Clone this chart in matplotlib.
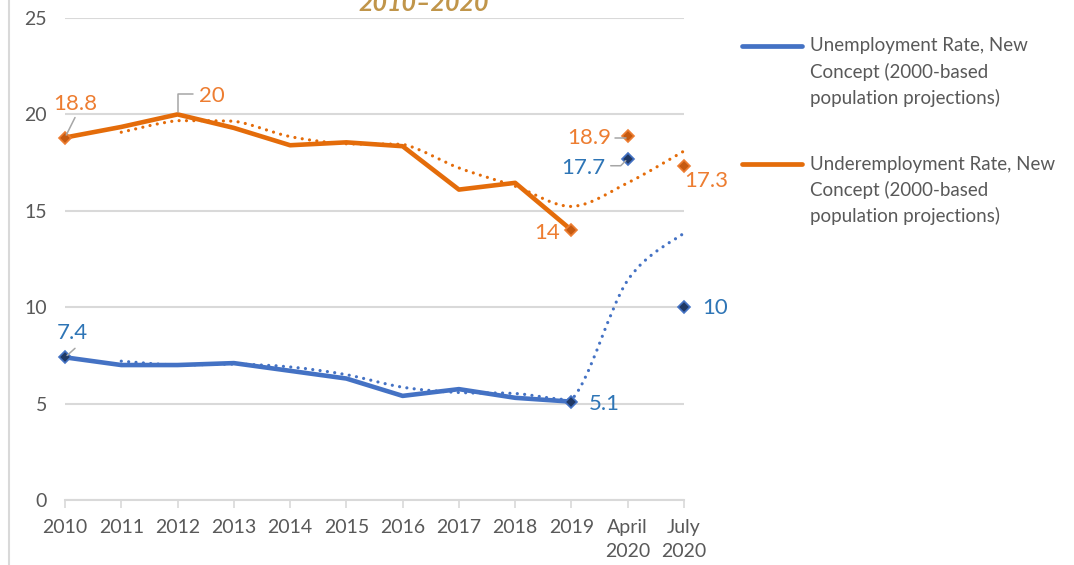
import matplotlib
matplotlib.use("Agg")
import matplotlib.pyplot as plt
from matplotlib.path import Path
from matplotlib.patches import PathPatch
from matplotlib.lines import Line2D
import pandas as pd

plt.rcParams['font.family'] = ['Lato', 'DejaVu Sans']

categories = ["2010", "2011", "2012", "2013", "2014", "2015", "2016", "2017",
              "2018", "2019", "April\n2020", "July\n2020"]
unemployment = [7.4, 7.0, 7.0, 7.1, 6.7, 6.3, 5.4, 5.75, 5.3, 5.1, 17.7, 10.0]
underemployment = [18.8, 19.35, 20.0, 19.3, 18.4, 18.55, 18.35, 16.1, 16.45, 14.0, 18.9, 17.3]
annual_count = 10
yticks = [0, 5, 10, 15, 20, 25]
legend_labels = ["Unemployment Rate, New\nConcept (2000-based\npopulation projections)",
                 "Underemployment Rate, New\nConcept (2000-based\npopulation projections)"]
title = "2010\u20132020"

W, H = 1074, 565
fig = plt.figure(figsize=(W / 100, H / 100), dpi=100)
ax = fig.add_axes([65 / W, 1 - 500 / H, (684 - 65) / W, (500 - 18) / H])

BLUE = "#4472C4"
ORANGE = "#E46C0A"
BLUE_TXT = "#2E75B6"
ORANGE_TXT = "#ED7D31"
GRID = "#D9D9D9"
TXT = "#595959"
LEAD = "#A6A6A6"

x = list(range(len(categories)))


def smooth_path(xs, ys):
    """Catmull-Rom style bezier path with control points clamped per segment."""
    pts = list(zip(xs, ys))
    n = len(pts)
    verts = [pts[0]]
    codes = [Path.MOVETO]
    for i in range(n - 1):
        p0 = pts[i - 1] if i > 0 else pts[i]
        p1 = pts[i]
        p2 = pts[i + 1]
        p3 = pts[i + 2] if i + 2 < n else pts[i + 1]
        lo, hi = min(p1[1], p2[1]), max(p1[1], p2[1])
        c1y = min(max(p1[1] + (p2[1] - p0[1]) / 6, lo), hi)
        c2y = min(max(p2[1] - (p3[1] - p1[1]) / 6, lo), hi)
        c1 = (p1[0] + (p2[0] - p0[0]) / 6, c1y)
        c2 = (p2[0] - (p3[0] - p1[0]) / 6, c2y)
        verts += [c1, c2, p2]
        codes += [Path.CURVE4] * 3
    return Path(verts, codes)


for series, color in [(unemployment, BLUE), (underemployment, ORANGE)]:
    ma = pd.Series(series).rolling(2).mean()
    xs = [xi for xi, v in zip(x, ma) if pd.notna(v)]
    ys = [v for v in ma if pd.notna(v)]
    patch = PathPatch(smooth_path(xs, ys), fill=False, edgecolor=color,
                      lw=2.3, linestyle=(0, (0.01, 2.3)), clip_on=False, zorder=3)
    patch.set_capstyle('round')
    ax.add_patch(patch)

ax.plot(x[:annual_count], unemployment[:annual_count], color=BLUE, lw=3.3,
        solid_joinstyle='round', solid_capstyle='round', zorder=4)
ax.plot(x[:annual_count], underemployment[:annual_count], color=ORANGE, lw=3.3,
        solid_joinstyle='round', solid_capstyle='round', zorder=4)

mk_idx = [0, 9, 10, 11]
ax.plot([x[i] for i in mk_idx], [unemployment[i] for i in mk_idx], ls='none',
        marker='D', ms=6.5, mfc="#203864", mec=BLUE, mew=1.2, clip_on=False, zorder=5)
ax.plot([x[i] for i in mk_idx], [underemployment[i] for i in mk_idx], ls='none',
        marker='D', ms=6.5, mfc="#C55A11", mec=ORANGE_TXT, mew=1.2, clip_on=False, zorder=5)

ax.set_xlim(0, len(categories) - 1)
ax.set_ylim(0, 25)
ax.set_yticks(yticks)
ax.set_xticks(x)
ax.set_xticklabels(categories, fontsize=14, color=TXT, linespacing=1.5)
ax.tick_params(axis='y', length=0, labelsize=14, labelcolor=TXT, pad=13)
ax.tick_params(axis='x', length=6, width=1.2, color=GRID, pad=8)
ax.grid(axis='y', color=GRID, lw=1.5)
ax.set_axisbelow(True)
for s in ['top', 'right', 'left']:
    ax.spines[s].set_visible(False)
ax.spines['bottom'].set_color(GRID)
ax.spines['bottom'].set_linewidth(1.5)

# data labels: (series, index, colour, text offset px, leader end offset px, connection)
labels = [
    (underemployment, 0, ORANGE_TXT, (10, 34), (10, 20), None),
    (underemployment, 2, ORANGE_TXT, (34, 18), (15, 20), "angle,angleA=0,angleB=90,rad=0"),
    (underemployment, 9, ORANGE_TXT, (-24, -3), None, None),
    (underemployment, 10, ORANGE_TXT, (-39, -2), (-13, -2), "angle,angleA=0,angleB=90,rad=0"),
    (underemployment, 11, ORANGE_TXT, (22, -15), None, None),
    (unemployment, 0, BLUE_TXT, (7, 24), (10, 9), None),
    (unemployment, 9, BLUE_TXT, (33, -2), None, None),
    (unemployment, 10, BLUE_TXT, (-44, -9), (-17, -7), "angle,angleA=0,angleB=45,rad=0"),
    (unemployment, 11, BLUE_TXT, (31, -1), None, None),
]
for series, i, col, toff, loff, conn in labels:
    val = series[i]
    txt = f"{val:g}"
    ax.annotate(txt, xy=(x[i], val), xytext=toff, textcoords='offset pixels',
                ha='center', va='center', fontsize=16, color=col,
                annotation_clip=False, zorder=6)
    if loff is not None:
        props = dict(arrowstyle='-', color=LEAD, lw=1.1, shrinkA=0, shrinkB=2)
        if conn:
            props['connectionstyle'] = conn
        ax.annotate("", xy=(x[i], val), xytext=loff, textcoords='offset pixels',
                    arrowprops=props, annotation_clip=False, zorder=5)

# title (partially cut at the top, as in the reference)
fig.text(424 / W, 1 - 11 / H, title, ha='center', va='baseline', fontsize=18,
         fontweight='bold', fontstyle='italic', color="#C0954A")

# left border line
fig.add_artist(Line2D([9 / W, 9 / W], [0, 1], color=GRID, lw=1.5))

# legend (manual)
for k, (lab, col) in enumerate(zip(legend_labels, [BLUE, ORANGE])):
    y0 = 46 + k * 118
    fig.add_artist(Line2D([742 / W, 802 / W], [1 - y0 / H, 1 - y0 / H], color=col,
                          lw=3.4, solid_capstyle='round'))
    for j, line in enumerate(lab.split("\n")):
        fig.text(810 / W, 1 - (y0 + 26 * j) / H, line, ha='left', va='center',
                 fontsize=13.5, color=TXT)

fig.savefig("out.png", dpi=100)
